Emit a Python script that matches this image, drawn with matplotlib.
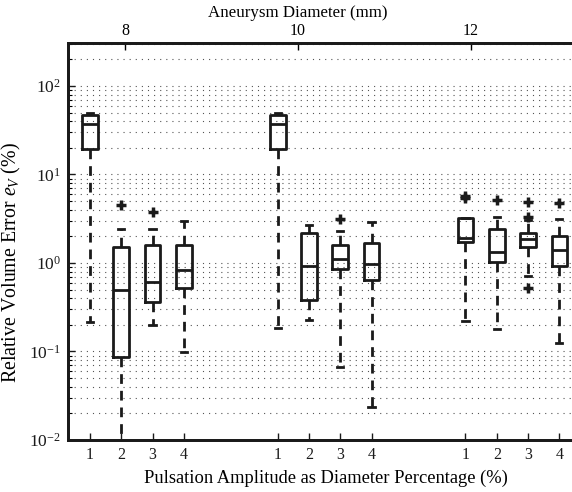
import matplotlib
matplotlib.use("Agg")
import matplotlib.pyplot as plt
from matplotlib.ticker import LogLocator, NullFormatter, FixedLocator, FuncFormatter
import numpy as np

plt.rcParams['font.family'] = ['Liberation Serif', 'DejaVu Serif']
plt.rcParams['mathtext.fontset'] = 'custom'
plt.rcParams['mathtext.rm'] = 'Liberation Serif'
plt.rcParams['mathtext.it'] = 'Liberation Serif:italic'

# Box statistics per case: 3 aneurysm diameters x 4 pulsation amplitudes
diameters = [8, 10, 12]
amplitudes = ['1', '2', '3', '4']
positions = [1, 2, 3, 4, 7, 8, 9, 10, 13, 14, 15, 16]

whis_hi = [50, 2.40, 2.40, 2.98,   50, 2.69, 2.30, 2.93,   3.20, 3.34, 3.08, 3.12]
q3      = [47, 1.50, 1.60, 1.60,   47, 2.16, 1.60, 1.70,   3.20, 2.40, 2.16, 2.02]
medians = [37, 0.49, 0.61, 0.83,   37, 0.92, 1.11, 0.98,   1.93, 1.34, 1.87, 1.40]
q1      = [19.3, 0.086, 0.366, 0.518,   19.3, 0.382, 0.85, 0.642,   1.74, 1.02, 1.50, 0.932]
whis_lo = [0.217, 0.004, 0.199, 0.0995, 0.183, 0.227, 0.0673, 0.0238, 0.223, 0.178, 0.713, 0.124]
outliers = [[], [4.52], [3.74], [],
            [], [], [3.14], [],
            [5.45, 5.75], [5.15], [3.35, 4.93, 0.526], [4.80]]

stats = []
for i in range(len(positions)):
    stats.append(dict(med=medians[i], q1=q1[i], q3=q3[i],
                      whislo=whis_lo[i], whishi=whis_hi[i], fliers=outliers[i]))

fig = plt.figure(figsize=(5.72, 4.92), dpi=100)
ax = fig.add_axes([68/572, 52/492, 507/572, 397/492])

ink = '#1a1a1a'
lw = 2.0
ax.bxp(stats, positions=positions, widths=0.5, capwidths=0.2,
       boxprops=dict(color=ink, linewidth=lw),
       medianprops=dict(color=ink, linewidth=lw),
       whiskerprops=dict(color=ink, linewidth=lw, linestyle=(0, (3.5, 2.5))),
       capprops=dict(color=ink, linewidth=lw),
       flierprops=dict(marker='+', markersize=7, markeredgewidth=2.5,
                       markeredgecolor=ink),
       manage_ticks=False)

ax.set_yscale('log')
ax.set_ylim(0.01, 306)
ax.set_xlim(0.3, 16.5)
ax.yaxis.set_major_locator(LogLocator(base=10, numticks=10))
ax.yaxis.set_minor_locator(LogLocator(base=10, subs=range(2, 10), numticks=20))
ax.yaxis.set_minor_formatter(NullFormatter())
ax.yaxis.set_major_formatter(
    FuncFormatter(lambda v, p: r'$10^{%d}$' % int(round(np.log10(v)))))
ax.set_xticks(positions)
ax.set_xticklabels(amplitudes * 3)

ax.grid(True, which='both', axis='y', color='#555555', linewidth=0.8,
        linestyle=(0, (1, 4.5)))
ax.set_axisbelow(True)

for s in ax.spines.values():
    s.set_linewidth(2.0)
    s.set_color(ink)
ax.tick_params(axis='both', which='major', direction='in', length=5, width=1,
               colors=ink)
ax.tick_params(axis='x', which='major', labelsize=11.5, pad=5)
ax.tick_params(axis='y', which='major', labelsize=12.5, pad=5)
ax.tick_params(axis='y', which='minor', direction='in', length=3, width=0.8)

ax.set_xlabel('Pulsation Amplitude as Diameter Percentage (%)', fontsize=13.3, labelpad=5)
ax.xaxis.label.set_x(0.509)
ax.set_ylabel('Relative Volume Error $e_V$ (%)', fontsize=14.3)
ax.yaxis.set_label_coords(-0.088, 0.447)

# Secondary axis for aneurysm diameter
ax2 = ax.twiny()
ax2.set_xlim(7.341, 13.202)
ax2.xaxis.set_major_locator(FixedLocator(diameters))
ax2.tick_params(axis='x', direction='in', length=5, width=1, labelsize=11.5, pad=3)
for s in ax2.spines.values():
    s.set_linewidth(2.0)
    s.set_color(ink)
ax2.set_xlabel('Aneurysm Diameter (mm)', fontsize=12.2, labelpad=4)
ax2.xaxis.label.set_x(0.4536)

fig.savefig('out.png', dpi=100)
